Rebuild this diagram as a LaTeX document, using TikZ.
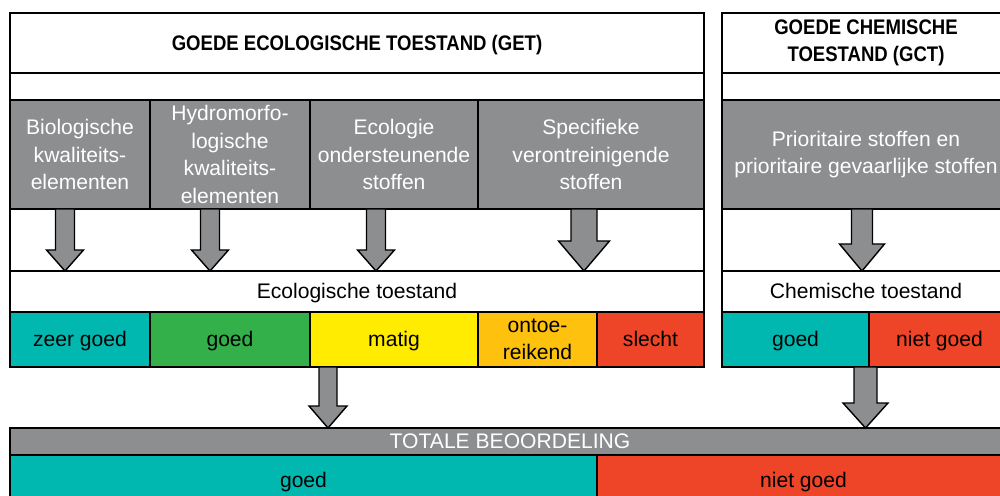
\documentclass[tikz,border=0pt]{standalone}
\usepackage{fontspec}
\setmainfont{Liberation Sans}
\newfontfamily\titlefont[FakeStretch=0.88]{Liberation Sans Bold}
\usetikzlibrary{calc}
\definecolor{boxgray}{RGB}{141,142,144}
\definecolor{zgcol}{RGB}{0,184,176}
\definecolor{gcol}{RGB}{51,176,74}
\definecolor{mcol}{RGB}{255,236,0}
\definecolor{ocol}{RGB}{254,193,14}
\definecolor{scol}{RGB}{238,68,39}
\def\pxu{0.02cm}
\newcommand{\fatarrow}[5]{%
  \draw[blockarrow] ($(#1)+(#3,0)$) |- ($(#2)+(#4,-#5)$) -- (#2)
    -- ($(#2)+(-#4,-#5)$) -| ($(#1)+(-#3,0)$) -- cycle;}

\begin{document}
\begin{tikzpicture}[x=0.02cm,y=-0.02cm,
    cell/.style={draw,line width=0.8pt,inner sep=0pt,outer sep=0pt,anchor=north west,
      align=center,font=\fontsize{12}{15.6}\selectfont},
    dims/.style 2 args={minimum width=#1*\pxu,minimum height=#2*\pxu},
    oneline/.style={text height=0.95em,text depth=0.1em},
    greycell/.style={cell,fill=boxgray,text=white},
    headcell/.style={cell,font=\titlefont\fontsize{12}{15.6}\selectfont},
    blockarrow/.style={draw,line width=0.8pt,fill=boxgray,line join=miter}]
  \useasboundingbox (0,0) rectangle (1000,496);
  \clip (0,0) rectangle (1000,496);
  % ecologische toestand
  \node[headcell,oneline,dims={694}{60}] (get) at (10,13) {GOEDE ECOLOGISCHE TOESTAND (GET)};
  \node[cell,dims={694}{27}] (getgap) at (10,73) {};
  \foreach \xa/\w/\nm/\txt in {10/140/bio/{Biologische\\kwaliteits-\\elementen},
      150/160/hydro/{Hydromorfo-\\logische\\kwaliteits-\\elementen},
      310/168/ondst/{Ecologie\\ondersteunende\\stoffen},
      478/226/spec/{Specifieke\\verontreinigende\\stoffen}}
    \node[greycell,dims={\w}{109}] (\nm) at (\xa,100) {\txt};
  \node[cell,dims={694}{62}] (getarrows) at (10,209) {};
  \node[cell,oneline,dims={694}{41}] (ecorow) at (10,271) {Ecologische toestand};
  \foreach \xa/\w/\col/\nm/\txt in {10/140/zgcol/zg/zeer goed, 150/160/gcol/g/goed,
      310/168/mcol/m/matig, 597/107/scol/sl/slecht}
    \node[cell,oneline,dims={\w}{55},fill=\col] (\nm) at (\xa,312) {\txt};
  \node[cell,dims={119}{55},fill=ocol] (ot) at (478,312) {ontoe-\\reikend};
  % chemische toestand
  \node[headcell,dims={288}{60}] (gct) at (722,13) {GOEDE CHEMISCHE\\TOESTAND (GCT)};
  \node[cell,dims={288}{27}] (gctgap) at (722,73) {};
  \node[greycell,dims={288}{109}] (prio) at (722,100) {Prioritaire stoffen en\\prioritaire gevaarlijke stoffen};
  \node[cell,dims={288}{62}] (gctarrows) at (722,209) {};
  \node[cell,oneline,dims={288}{41}] (chemrow) at (722,271) {Chemische toestand};
  \node[cell,oneline,dims={147}{55},fill=zgcol] (cg) at (722,312) {goed};
  \node[cell,oneline,dims={141}{55},fill=scol] (cng) at (869,312) {niet goed};
  % totale beoordeling
  \node[greycell,oneline,dims={1000}{27}] (totaal) at (10,428) {TOTALE BEOORDELING};
  \node[cell,oneline,dims={587}{50},fill=zgcol] (totgoed) at (10,455) {goed};
  \node[cell,oneline,dims={413}{50},fill=scol] (totniet) at (597,455) {niet goed};
  % pijlen
  \coordinate (a1) at ($(bio.south)+(-15,0)$);
  \coordinate (a2) at ($(hydro.south)+(-20,0)$);
  \coordinate (a3) at ($(ondst.south)+(-18,0)$);
  \coordinate (a4) at ($(spec.south)+(-7,0)$);
  \coordinate (a5) at ($(prio.south)+(-4,0)$);
  \coordinate (a6) at ($(m.south west)+(18,0)$);
  \coordinate (a7) at ($(cg.south east)+(-3.5,0)$);
  \foreach \a in {a1,a2,a3}
    {\fatarrow{\a}{ecorow.north -| \a}{9.5}{18.5}{21}}
  \fatarrow{a4}{ecorow.north -| a4}{13}{25.5}{30}
  \fatarrow{a5}{chemrow.north -| a5}{10.5}{22.5}{27}
  \fatarrow{a6}{totaal.north -| a6}{9}{19}{22}
  \fatarrow{a7}{totaal.north -| a7}{11.5}{22.5}{25}
\end{tikzpicture}
\end{document}
